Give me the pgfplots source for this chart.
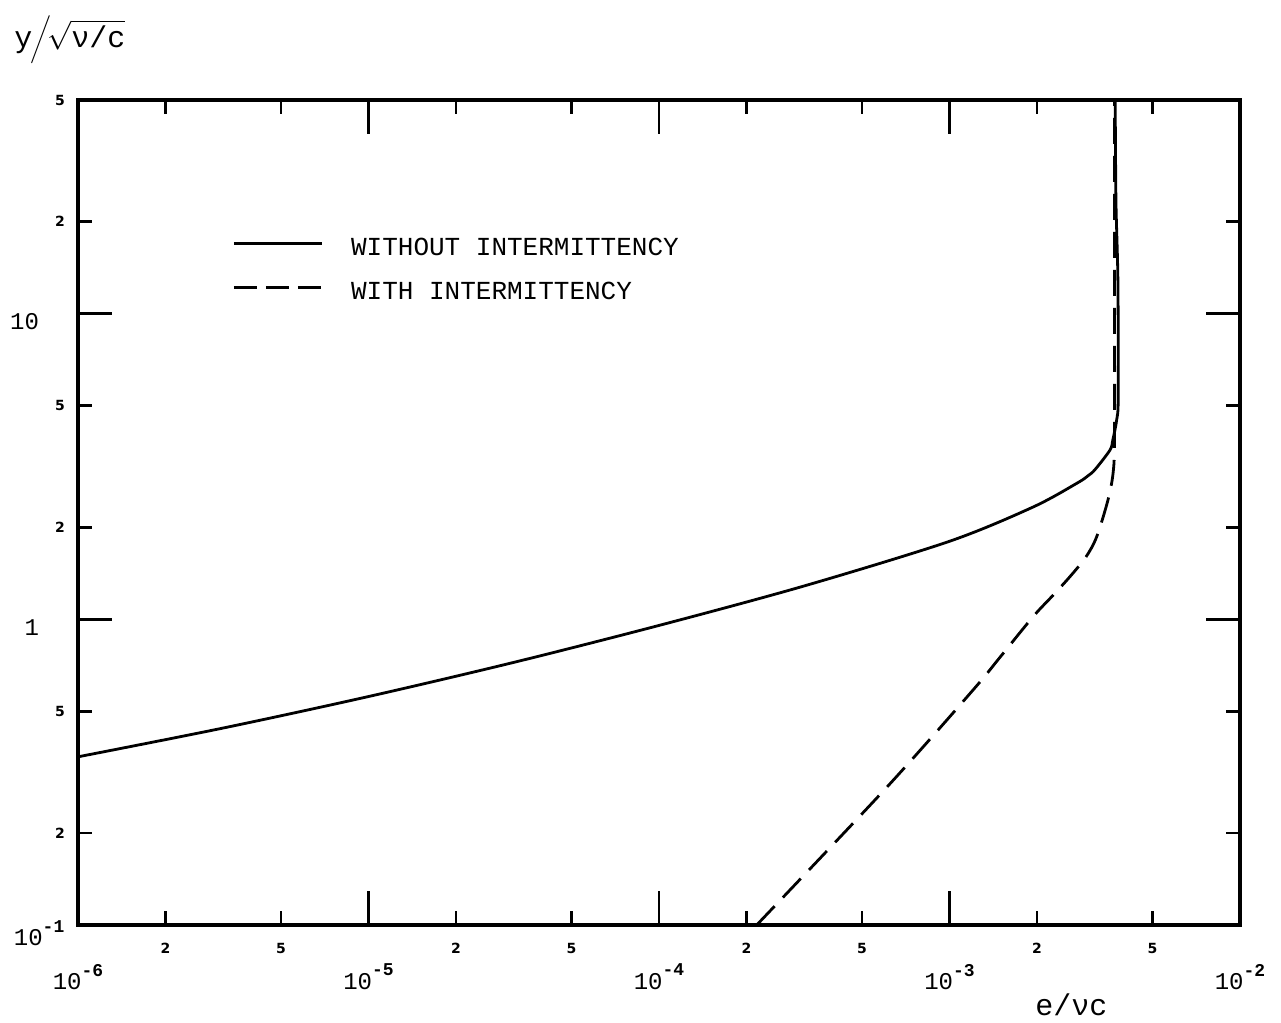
\documentclass[border=0pt]{standalone}
\usepackage{fontspec}
\setmainfont{Liberation Mono}
\setmonofont{Liberation Mono}
\setsansfont{DejaVu Sans}
\usepackage{pgfplots}
\pgfplotsset{compat=1.18}
\newcommand{\ee}[1]{10\raisebox{0.55em}{\fontsize{9}{9}\selectfont\bfseries -#1}}
\begin{document}
\begin{tikzpicture}
\begin{axis}[
  name=ax,
  xmode=log, ymode=log,
  scale only axis, width=581pt, height=412.5pt,
  xmin=1e-6, xmax=1e-2, ymin=0.1, ymax=50,
  axis line style={line width=1.6pt},
  every tick/.style={black, line width=1.2pt},
  tick align=inside,
  major tick length=17pt,
  minor tick length=0pt,
  tick label style={font=\fontsize{12}{14}\selectfont},
  xtick={1e-6,1e-5,1e-4,1e-3,1e-2},
  xticklabels={\ee{6},\ee{5},\ee{4},\ee{3},\ee{2}},
  ytick={0.1,1,10},
  yticklabels={\makebox[12.5pt][l]{\ee{1}},1,10},
  xticklabel style={yshift=-16pt},
  yticklabel style={anchor=east, xshift=-16pt, yshift=-4pt},
  extra x ticks={2e-6,5e-6,2e-5,5e-5,2e-4,5e-4,2e-3,5e-3},
  extra x tick labels={2,5,2,5,2,5,2,5},
  extra y ticks={0.2,0.5,2,5,20,50},
  extra y tick labels={2,5,2,5,2,5},
  extra x tick style={major tick length=7pt, xticklabel style={yshift=10.5pt, font=\sffamily\bfseries\fontsize{7}{8}\selectfont}},
  extra y tick style={major tick length=7pt, yticklabel style={anchor=east, xshift=13pt, yshift=4pt, font=\sffamily\bfseries\fontsize{7}{8}\selectfont}},
  xlabel={e/νc},
  xlabel style={at={(axis description cs:0.855,0)}, anchor=center, yshift=-40pt, font=\fontsize{15}{18}\selectfont},
  legend style={draw=none, fill=none, at={(axis description cs:0.1325,0.834)}, anchor=north west, inner sep=0pt, row sep=13pt, font=\fontsize{13}{15}\selectfont, nodes={inner sep=0pt, text height=9pt, text depth=0pt}, /tikz/every odd column/.append style={column sep=14pt}},
  legend image code/.code={\draw[#1] (0pt,1.5pt) -- (44pt,1.5pt);},
  legend cell align=left,
]
\addplot[black, line width=1.4pt, smooth, tension=0.5] coordinates {
(1e-6,0.355) (3.162e-6,0.441) (1e-5,0.559) (3.162e-5,0.723) (1e-4,0.955)
(3.162e-4,1.286) (1.0e-3,1.80) (1.94e-3,2.33) (2.75e-3,2.79) (3.0e-3,2.95)
(3.17e-3,3.09) (3.57e-3,3.58) (3.65e-3,3.86) (3.763e-3,4.49) (3.811e-3,5.33)
(3.80e-3,12.9) (3.742e-3,23.5) (3.72e-3,50)
};
\addlegendentry{WITHOUT INTERMITTENCY}
\addplot[black, line width=1.4pt, smooth, tension=0.5, dash pattern=on 13pt off 6pt, legend image post style={dash pattern=on 11.5pt off 4.5pt}] coordinates {
(2.17e-4,0.1) (6.10e-4,0.283) (1.205e-3,0.587) (1.49e-3,0.750)
(1.94e-3,1.02) (2.275e-3,1.20) (2.60e-3,1.38) (2.95e-3,1.60) (3.21e-3,1.86)
(3.51e-3,2.45) (3.66e-3,3.02) (3.70e-3,3.98) (3.70e-3,12) (3.70e-3,50)
};
\addlegendentry{WITH INTERMITTENCY}
\end{axis}
\node[anchor=west, inner sep=0pt] at ([xshift=-32pt, yshift=30pt]ax.north west) {\fontsize{15}{18}\selectfont y\hspace{-1pt}$\bigg/$\hspace{-2pt}$\sqrt{\mbox{\fontsize{15}{18}\selectfont ν/c}}$};
\pgfresetboundingbox
\path[use as bounding box] (-39pt,-49pt) rectangle (601.5pt,462.5pt);
\end{tikzpicture}
\end{document}
